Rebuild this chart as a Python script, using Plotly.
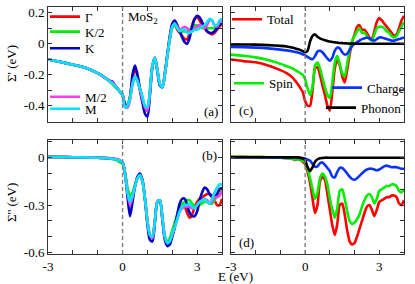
import plotly.graph_objects as go
from plotly.subplots import make_subplots

# ---------------- data ----------------
E = [-3.0, -2.5, -2.0, -1.5, -1.0, -0.75, -0.5, -0.4, -0.3, -0.2, -0.1,
     0.0, 0.1, 0.2, 0.3, 0.4, 0.5, 0.6, 0.7, 0.8, 0.9,
     1.0, 1.1, 1.2, 1.3, 1.4, 1.5, 1.6, 1.7, 1.8, 1.9,
     2.0, 2.1, 2.2, 2.3, 2.4, 2.5, 2.6, 2.7, 2.8, 2.9,
     3.0, 3.1, 3.2, 3.3, 3.4, 3.5, 3.6, 3.7, 3.8, 3.9,
     4.0]

k_labels = ["Γ", "K/2", "K", "M/2", "M"]
mech_labels = ["Total", "Spin", "Charge", "Phonon"]

# panel (a): real part of self-energy, per k point
re_Gamma = [-0.102, -0.117, -0.135, -0.155, -0.19, -0.215, -0.245, -0.258, -0.272, -0.29, -0.31,
            -0.33, -0.40, -0.40, -0.34, -0.23, -0.16, -0.21, -0.29, -0.36, -0.42,
            -0.43, -0.31, -0.14, -0.09, -0.17, -0.26, -0.28, -0.20, -0.08, 0.03,
            0.11, 0.12, 0.09, 0.07, 0.05, 0.03, 0.03, 0.07, 0.12, 0.16,
            0.17, 0.15, 0.12, 0.10, 0.08, 0.07, 0.06, 0.07, 0.09, 0.11,
            0.13]
re_K2 = [-0.102, -0.117, -0.135, -0.155, -0.19, -0.215, -0.247, -0.262, -0.278, -0.295, -0.312,
         -0.33, -0.40, -0.39, -0.34, -0.26, -0.22, -0.24, -0.29, -0.35, -0.40,
         -0.41, -0.30, -0.14, -0.09, -0.17, -0.26, -0.28, -0.20, -0.08, 0.03,
         0.10, 0.12, 0.10, 0.08, 0.08, 0.08, 0.08, 0.09, 0.11, 0.12,
         0.12, 0.11, 0.10, 0.10, 0.10, 0.10, 0.10, 0.10, 0.11, 0.12,
         0.13]
re_K = [-0.102, -0.117, -0.135, -0.155, -0.19, -0.215, -0.24, -0.245, -0.27, -0.29, -0.31,
        -0.33, -0.39, -0.41, -0.35, -0.20, -0.14, -0.20, -0.30, -0.38, -0.45,
        -0.47, -0.33, -0.15, -0.09, -0.18, -0.27, -0.28, -0.19, -0.07, 0.05,
        0.13, 0.15, 0.12, 0.08, 0.04, 0.01, 0.00, 0.04, 0.11, 0.16,
        0.18, 0.17, 0.14, 0.11, 0.08, 0.07, 0.07, 0.08, 0.10, 0.12,
        0.13]
re_M2 = [-0.102, -0.117, -0.135, -0.155, -0.19, -0.215, -0.242, -0.25, -0.27, -0.29, -0.31,
         -0.33, -0.41, -0.41, -0.36, -0.26, -0.21, -0.24, -0.30, -0.36, -0.41,
         -0.43, -0.31, -0.15, -0.09, -0.17, -0.26, -0.28, -0.20, -0.08, 0.03,
         0.11, 0.13, 0.11, 0.09, 0.10, 0.11, 0.10, 0.08, 0.08, 0.10,
         0.11, 0.12, 0.11, 0.10, 0.12, 0.15, 0.15, 0.12, 0.11, 0.14,
         0.15]
re_M = [-0.102, -0.117, -0.135, -0.155, -0.19, -0.215, -0.245, -0.258, -0.272, -0.29, -0.31,
        -0.33, -0.41, -0.40, -0.35, -0.26, -0.21, -0.24, -0.29, -0.34, -0.40,
        -0.41, -0.30, -0.14, -0.09, -0.17, -0.26, -0.28, -0.20, -0.08, 0.03,
        0.11, 0.13, 0.10, 0.08, 0.09, 0.09, 0.07, 0.07, 0.08, 0.09,
        0.09, 0.10, 0.11, 0.12, 0.14, 0.16, 0.15, 0.12, 0.12, 0.15,
        0.16]

# panel (b): imaginary part, per k point
im_Gamma = [0.005, 0.004, 0.003, 0.002, 0.0, -0.002, -0.005, -0.008, -0.01, -0.015, -0.02,
            -0.03, -0.10, -0.21, -0.28, -0.24, -0.18, -0.13, -0.11, -0.15, -0.26,
            -0.40, -0.49, -0.50, -0.40, -0.28, -0.27, -0.38, -0.50, -0.54, -0.53,
            -0.49, -0.43, -0.37, -0.32, -0.30, -0.31, -0.35, -0.38, -0.36, -0.31,
            -0.28, -0.26, -0.25, -0.24, -0.23, -0.23, -0.24, -0.27, -0.30, -0.30,
            -0.26]
im_K2 = [0.005, 0.004, 0.003, 0.002, 0.0, -0.002, -0.005, -0.008, -0.012, -0.02, -0.03,
         -0.04, -0.10, -0.19, -0.24, -0.22, -0.17, -0.13, -0.11, -0.15, -0.26,
         -0.40, -0.49, -0.50, -0.40, -0.28, -0.27, -0.38, -0.50, -0.53, -0.51,
         -0.46, -0.41, -0.36, -0.31, -0.29, -0.28, -0.27, -0.27, -0.29, -0.31,
         -0.31, -0.30, -0.29, -0.28, -0.28, -0.29, -0.29, -0.27, -0.24, -0.21,
         -0.20]
im_K = [0.005, 0.004, 0.003, 0.002, 0.0, -0.002, -0.004, -0.005, -0.008, -0.01, -0.02,
        -0.03, -0.10, -0.25, -0.37, -0.28, -0.18, -0.12, -0.10, -0.14, -0.26,
        -0.42, -0.52, -0.53, -0.41, -0.28, -0.27, -0.39, -0.52, -0.56, -0.55,
        -0.50, -0.44, -0.36, -0.29, -0.26, -0.26, -0.30, -0.35, -0.37, -0.37,
        -0.34, -0.27, -0.22, -0.19, -0.20, -0.23, -0.25, -0.25, -0.23, -0.20,
        -0.19]
im_M2 = [0.005, 0.004, 0.003, 0.002, 0.0, -0.002, -0.004, -0.005, -0.008, -0.012, -0.02,
         -0.03, -0.10, -0.22, -0.30, -0.25, -0.18, -0.13, -0.11, -0.15, -0.26,
         -0.40, -0.49, -0.51, -0.40, -0.28, -0.27, -0.38, -0.50, -0.54, -0.53,
         -0.49, -0.44, -0.39, -0.34, -0.32, -0.31, -0.31, -0.31, -0.32, -0.32,
         -0.30, -0.28, -0.27, -0.26, -0.27, -0.29, -0.28, -0.25, -0.25, -0.24,
         -0.21]
im_M = [0.005, 0.004, 0.003, 0.002, 0.0, -0.002, -0.005, -0.008, -0.01, -0.015, -0.02,
        -0.03, -0.10, -0.22, -0.28, -0.24, -0.18, -0.13, -0.11, -0.15, -0.26,
        -0.40, -0.49, -0.50, -0.40, -0.28, -0.27, -0.38, -0.50, -0.54, -0.53,
        -0.48, -0.44, -0.39, -0.34, -0.31, -0.30, -0.30, -0.29, -0.31, -0.32,
        -0.30, -0.28, -0.27, -0.26, -0.28, -0.29, -0.26, -0.22, -0.19, -0.17,
        -0.17]

# panel (c): real part, per mechanism
re_total = [-0.102, -0.112, -0.12, -0.14, -0.17, -0.19, -0.22, -0.24, -0.26, -0.285, -0.31,
            -0.37, -0.40, -0.40, -0.30, -0.16, -0.15, -0.20, -0.27, -0.33, -0.40,
            -0.43, -0.31, -0.16, -0.10, -0.14, -0.21, -0.25, -0.17, -0.07, 0.01,
            0.06, 0.11, 0.12, 0.09, 0.09, 0.07, 0.04, 0.03, 0.08, 0.14,
            0.165, 0.15, 0.13, 0.11, 0.09, 0.07, 0.05, 0.06, 0.10, 0.15,
            0.18]
re_spin = [-0.07, -0.078, -0.088, -0.105, -0.13, -0.145, -0.16, -0.17, -0.18, -0.19, -0.20,
           -0.23, -0.29, -0.33, -0.28, -0.14, -0.12, -0.16, -0.22, -0.28, -0.33,
           -0.35, -0.25, -0.12, -0.08, -0.13, -0.19, -0.21, -0.13, -0.04, 0.02,
           0.05, 0.08, 0.10, 0.07, 0.07, 0.05, 0.03, 0.02, 0.06, 0.10,
           0.11, 0.11, 0.10, 0.08, 0.07, 0.05, 0.04, 0.05, 0.08, 0.11,
           0.14]
re_charge = [-0.02, -0.022, -0.025, -0.03, -0.038, -0.043, -0.05, -0.053, -0.057, -0.062, -0.068,
             -0.075, -0.085, -0.095, -0.10, -0.08, -0.05, -0.045, -0.055, -0.075, -0.095,
             -0.11, -0.09, -0.045, -0.025, -0.03, -0.055, -0.07, -0.065, -0.04, -0.015,
             0.0, 0.01, 0.02, 0.03, 0.035, 0.04, 0.035, 0.025, 0.02, 0.03,
             0.04, 0.04, 0.035, 0.03, 0.025, 0.02, 0.02, 0.025, 0.03, 0.035,
             0.04]
re_phonon = [-0.004, -0.005, -0.006, -0.009, -0.014, -0.018, -0.026, -0.03, -0.035, -0.04, -0.048,
             -0.055, -0.045, 0.015, 0.05, 0.06, 0.045, 0.035, 0.028, 0.022, 0.018,
             0.014, 0.011, 0.009, 0.007, 0.005, 0.004, 0.003, 0.002, 0.001, 0.001,
             0.0, 0.0, 0.0, 0.0, 0.0, 0.0, 0.0, 0.0, 0.0, 0.0,
             0.0, 0.0, 0.0, 0.0, 0.0, 0.0, 0.0, 0.0, 0.0, 0.0,
             0.0]

# panel (d): imaginary part, per mechanism
im_total = [0.005, 0.005, 0.004, 0.003, 0.0, -0.003, -0.008, -0.015, -0.01, -0.015, -0.025,
            -0.04, -0.09, -0.16, -0.26, -0.35, -0.30, -0.15, -0.12, -0.14, -0.23,
            -0.33, -0.43, -0.49, -0.42, -0.30, -0.29, -0.36, -0.46, -0.53, -0.55,
            -0.54, -0.50, -0.45, -0.40, -0.35, -0.31, -0.30, -0.33, -0.37, -0.33,
            -0.28, -0.27, -0.26, -0.25, -0.25, -0.24, -0.24, -0.25, -0.29, -0.30,
            -0.27]
im_spin = [0.005, 0.005, 0.004, 0.003, 0.0, -0.003, -0.007, -0.012, -0.01, -0.013, -0.02,
           -0.03, -0.07, -0.13, -0.20, -0.26, -0.22, -0.13, -0.10, -0.12, -0.17,
           -0.26, -0.33, -0.38, -0.32, -0.21, -0.20, -0.26, -0.34, -0.40, -0.42,
           -0.41, -0.39, -0.36, -0.31, -0.27, -0.24, -0.23, -0.25, -0.29, -0.26,
           -0.21, -0.20, -0.19, -0.18, -0.18, -0.17, -0.17, -0.18, -0.21, -0.22,
           -0.20]
im_charge = [0.003, 0.003, 0.003, 0.002, 0.001, 0.0, 0.0, 0.0, -0.001, -0.001, -0.002,
             -0.005, -0.012, -0.02, -0.04, -0.058, -0.055, -0.035, -0.03, -0.045, -0.065,
             -0.085, -0.12, -0.125, -0.09, -0.065, -0.065, -0.08, -0.10, -0.12, -0.135,
             -0.14, -0.13, -0.115, -0.10, -0.085, -0.075, -0.07, -0.07, -0.075, -0.08,
             -0.075, -0.065, -0.055, -0.05, -0.055, -0.06, -0.06, -0.06, -0.065, -0.07,
             -0.07]
im_phonon = [0.003, 0.003, 0.003, 0.003, 0.003, 0.003, 0.003, 0.003, 0.002, 0.0, -0.005,
             -0.015, -0.06, -0.085, -0.06, -0.025, -0.01, -0.004, -0.002, 0.0, 0.0,
             0.0, 0.0, 0.0, 0.0, 0.0, 0.0, 0.0, 0.0, 0.0, 0.0,
             0.0, 0.0, 0.0, 0.0, 0.0, 0.0, 0.0, 0.0, 0.0, 0.0,
             0.0, 0.0, 0.0, 0.0, 0.0, 0.0, 0.0, 0.0, 0.0, 0.0,
             0.0]

x_ticks = [-3, -2, -1, 0, 1, 2, 3]
x_ticktext = ["-3", " ", " ", "0", " ", " ", "3"]
y_top_ticks = [-0.4, -0.3, -0.2, -0.1, 0.0, 0.1, 0.2]
y_top_ticktext = ["-0.4", " ", "-0.2", " ", "0", " ", "0.2"]
y_bot_ticks = [-0.6, -0.5, -0.4, -0.3, -0.2, -0.1, 0.0, 0.1]
y_bot_ticktext = ["-0.6", " ", " ", "-0.3", " ", " ", "0", " "]

# ---------------- figure ----------------
FONT = "Liberation Serif, Times New Roman, serif"
W, H = 415, 284
ML, MR, MT, MB = 48, 11, 7, 30
PW, PH = W - ML - MR, H - MT - MB


def px(xp):
    return (xp - ML) / PW


def py(yp):
    return (H - MB - yp) / PH


fig = make_subplots(rows=2, cols=2)

k_colors = ["#ff0000", "#00ee00", "#0000c8", "#ff3cf0", "#00e4ff"]
mech_colors = ["#ff0000", "#00ee00", "#0a32ff", "#000000"]
LW = 2.6

k_re = [re_Gamma, re_K2, re_K, re_M2, re_M]
k_im = [im_Gamma, im_K2, im_K, im_M2, im_M]
k_leg = ["legend", "legend2", "legend3", "legend4", "legend5"]
for i, lab in enumerate(k_labels):
    fig.add_trace(go.Scatter(x=E, y=k_re[i], mode="lines", name=lab,
                             line=dict(color=k_colors[i], width=LW, shape="spline", smoothing=0.8),
                             legend=k_leg[i], showlegend=True), row=1, col=1)
for i, lab in enumerate(k_labels):
    fig.add_trace(go.Scatter(x=E, y=k_im[i], mode="lines", name=lab,
                             line=dict(color=k_colors[i], width=LW, shape="spline", smoothing=0.8),
                             showlegend=False), row=2, col=1)

m_re = [re_total, re_spin, re_charge, re_phonon]
m_im = [im_total, im_spin, im_charge, im_phonon]
m_leg = ["legend6", "legend7", "legend8", "legend9"]
for i, lab in enumerate(mech_labels):
    fig.add_trace(go.Scatter(x=E, y=m_re[i], mode="lines", name=lab,
                             line=dict(color=mech_colors[i], width=LW, shape="spline", smoothing=0.6),
                             legend=m_leg[i], showlegend=True), row=1, col=2)
for i, lab in enumerate(mech_labels):
    fig.add_trace(go.Scatter(x=E, y=m_im[i], mode="lines", name=lab,
                             line=dict(color=mech_colors[i], width=LW, shape="spline", smoothing=0.6),
                             showlegend=False), row=2, col=2)

xdom_l = [0, px(222)]
xdom_r = [px(231), 1]
ydom_t = [py(122), 1]
ydom_b = [0, py(140)]

axcommon = dict(showline=True, linecolor="#333", linewidth=1, mirror="ticks",
                ticks="inside", ticklen=4, tickcolor="#333", tickwidth=1,
                showgrid=False, zeroline=False, automargin=False,
                tickfont=dict(family=FONT, size=13, color="#000"))

for r, c, xd, yd in [(1, 1, xdom_l, ydom_t), (1, 2, xdom_r, ydom_t),
                     (2, 1, xdom_l, ydom_b), (2, 2, xdom_r, ydom_b)]:
    fig.update_xaxes(domain=xd, range=[-3, 4], tickmode="array", tickvals=x_ticks,
                     ticktext=x_ticktext, showticklabels=(r == 2), **axcommon, row=r, col=c)
    if r == 1:
        fig.update_yaxes(domain=yd, range=[-0.505, 0.237], tickmode="array", tickvals=y_top_ticks,
                         ticktext=y_top_ticktext, showticklabels=(c == 1), **axcommon, row=r, col=c)
    else:
        fig.update_yaxes(domain=yd, range=[-0.61, 0.112], tickmode="array", tickvals=y_bot_ticks,
                         ticktext=y_bot_ticktext, showticklabels=(c == 1), **axcommon, row=r, col=c)
    fig.add_vline(x=0, line=dict(color="#808080", width=1.4, dash="4px,3px"), row=r, col=c)

legfont = dict(family=FONT, size=13, color="#000")
# legend box left edge (px) and item centre y (px)
leg_pos = {
    "legend": (45, 16.7), "legend2": (45, 31.7), "legend3": (45, 48.3),
    "legend4": (45, 96.8), "legend5": (45, 108.8),
    "legend6": (227, 19.3), "legend7": (229, 83.3),
    "legend8": (327, 87.7), "legend9": (321, 107.7),
}
legs = {}
for k, (lx, ly) in leg_pos.items():
    legs[k] = dict(x=px(lx), y=py(ly), xanchor="left", yanchor="middle",
                   bgcolor="rgba(0,0,0,0)", borderwidth=0, font=legfont,
                   itemwidth=30, tracegroupgap=0)

ann = [
    dict(text="MoS<sub>2</sub>", x=px(126), y=py(18), xanchor="left", yanchor="middle"),
    dict(text="(a)", x=px(220), y=py(111), xanchor="right", yanchor="middle"),
    dict(text="(b)", x=px(219), y=py(155), xanchor="right", yanchor="middle"),
    dict(text="(c)", x=px(237), y=py(110), xanchor="left", yanchor="middle"),
    dict(text="(d)", x=px(237), y=py(242), xanchor="left", yanchor="middle"),
    dict(text="E (eV)", x=px(235), y=py(276), xanchor="center", yanchor="middle", borderpad=0),
    dict(text="Σ' (eV)", x=px(12), y=py(64), xanchor="center", yanchor="middle", textangle=-90),
    dict(text="Σ'' (eV)", x=px(12), y=py(203), xanchor="center", yanchor="middle", textangle=-90),
]
for a in ann:
    a.update(xref="paper", yref="paper", showarrow=False, font=dict(family=FONT, size=13, color="#000"))

fig.update_layout(width=W, height=H, margin=dict(l=ML, r=MR, t=MT, b=MB, autoexpand=False),
                  paper_bgcolor="white", plot_bgcolor="white",
                  font=dict(family=FONT, size=13, color="#000"),
                  annotations=ann, **legs)

fig.write_html("out.html", config={"displayModeBar": False},
               post_script="document.body.style.margin='0px';document.body.style.overflow='hidden';")
